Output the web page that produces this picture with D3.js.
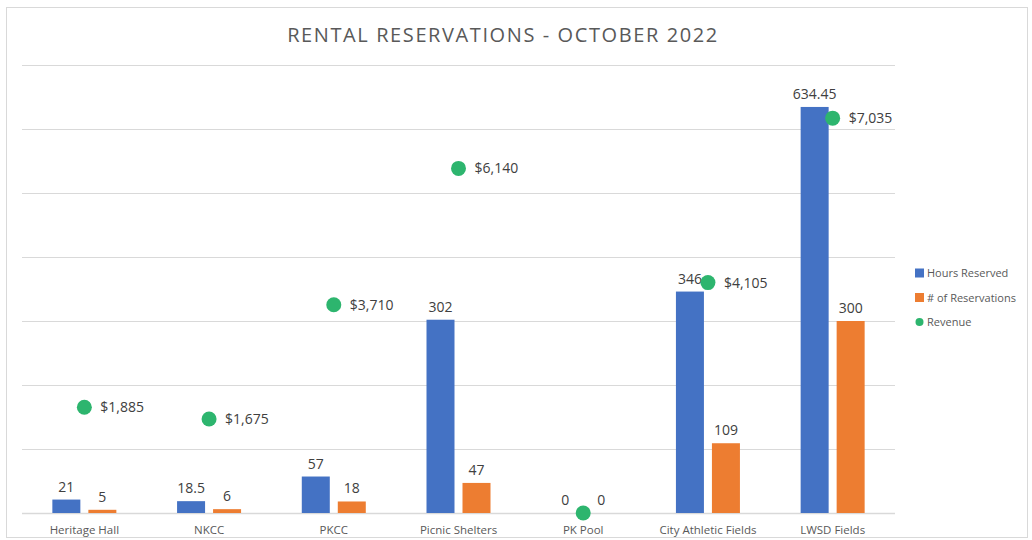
<!DOCTYPE html>
<html><head><meta charset="utf-8">
<script src="https://cdn.jsdelivr.net/npm/d3@7"></script>
<style>body{margin:0;background:#fff;} svg{display:block;}</style>
</head><body>
<svg id="c" width="1032" height="540"></svg>
<script>
const categories = ["Heritage Hall","NKCC","PKCC","Picnic Shelters","PK Pool","City Athletic Fields","LWSD Fields"];
const hoursReserved = [21,18.5,57,302,0,346,634.45];
const reservations = [5,6,18,47,0,109,300];
const revenue = [1885,1675,3710,6140,0,4105,7035];
const leftTicks = [0,100,200,300,400,500,600,700];
const seriesNames = ["Hours Reserved","# of Reservations","Revenue"];
const colors = ["#4472C4","#ED7D31","#2DB56E"];
const title = "RENTAL RESERVATIONS - OCTOBER 2022";

const svg = d3.select("#c");
const font = "'Open Sans', 'Noto Sans', sans-serif";
const m = {left:22, right:895, top:65, bottom:513};

svg.append("rect").attr("x",6.5).attr("y",7.5).attr("width",1021).attr("height",530)
  .attr("fill","#fff").attr("stroke","#d9d9d9").attr("stroke-width",1);

const x = d3.scaleBand().domain(categories).range([m.left,m.right]);
const y = d3.scaleLinear().domain([0,700]).range([m.bottom,m.top]);
// secondary (hidden) axis for revenue, 0..8000
const y2 = d3.scaleLinear().domain([0,8000]).range([m.bottom, m.bottom - 449]);

svg.append("g").selectAll("line").data(leftTicks).join("line")
  .attr("x1",m.left).attr("x2",m.right)
  .attr("y1",d=>Math.round(y(d))+0.5).attr("y2",d=>Math.round(y(d))+0.5)
  .attr("stroke","#d9d9d9").attr("stroke-width",d=>d===0?1.5:1);

svg.append("text").attr("x",503).attr("y",42).attr("text-anchor","middle")
  .attr("font-family",font).attr("font-size",20).attr("fill","#595959")
  .attr("letter-spacing",1.6).text(title);

const bw = 28, gap = 8;
const cx = d => x(d) + x.bandwidth()/2;
const rows = categories.map((c,i)=>({c, h:hoursReserved[i], r:reservations[i], v:revenue[i]}));

const g = svg.append("g");
g.selectAll(".b1").data(rows).join("rect")
  .attr("x",d=>cx(d.c)-gap/2-bw).attr("width",bw)
  .attr("y",d=>y(d.h)).attr("height",d=>y(0)-y(d.h)).attr("fill",colors[0]);
g.selectAll(".b2").data(rows).join("rect")
  .attr("x",d=>cx(d.c)+gap/2).attr("width",bw)
  .attr("y",d=>y(d.r)).attr("height",d=>y(0)-y(d.r)).attr("fill",colors[1]);

g.selectAll(".l1").data(rows).join("text")
  .attr("x",d=>cx(d.c)-gap/2-bw/2).attr("y",d=>y(d.h)-8)
  .attr("text-anchor","middle").attr("font-family",font).attr("font-size",14).attr("fill","#404040")
  .text(d=>d.h);
g.selectAll(".l2").data(rows).join("text")
  .attr("x",d=>cx(d.c)+gap/2+bw/2).attr("y",d=>y(d.r)-8)
  .attr("text-anchor","middle").attr("font-family",font).attr("font-size",14).attr("fill","#404040")
  .text(d=>d.r);

g.selectAll(".dot").data(rows).join("circle")
  .attr("cx",d=>cx(d.c)).attr("cy",d=>y2(d.v)).attr("r",7.5).attr("fill",colors[2]);
g.selectAll(".rl").data(rows.filter(d=>d.v>0)).join("text")
  .attr("x",d=>cx(d.c)+16).attr("y",d=>y2(d.v)+5)
  .attr("font-family",font).attr("font-size",14).attr("fill","#404040")
  .text(d=>"$"+d3.format(",")(d.v));

g.selectAll(".cl").data(categories).join("text")
  .attr("x",d=>cx(d)).attr("y",534).attr("text-anchor","middle")
  .attr("font-family",font).attr("font-size",11.5).attr("fill","#595959").text(d=>d);

const lg = svg.append("g");
seriesNames.forEach((s,i)=>{
  const ly = 273 + i*24.5;
  if(i<2) lg.append("rect").attr("x",915).attr("y",ly-4.5).attr("width",9).attr("height",9).attr("fill",colors[i]);
  else lg.append("circle").attr("cx",919.5).attr("cy",ly).attr("r",4).attr("fill",colors[i]);
  lg.append("text").attr("x",927).attr("y",ly+4).attr("font-family",font).attr("font-size",11)
    .attr("fill","#595959").text(s);
});
</script>
</body></html>
